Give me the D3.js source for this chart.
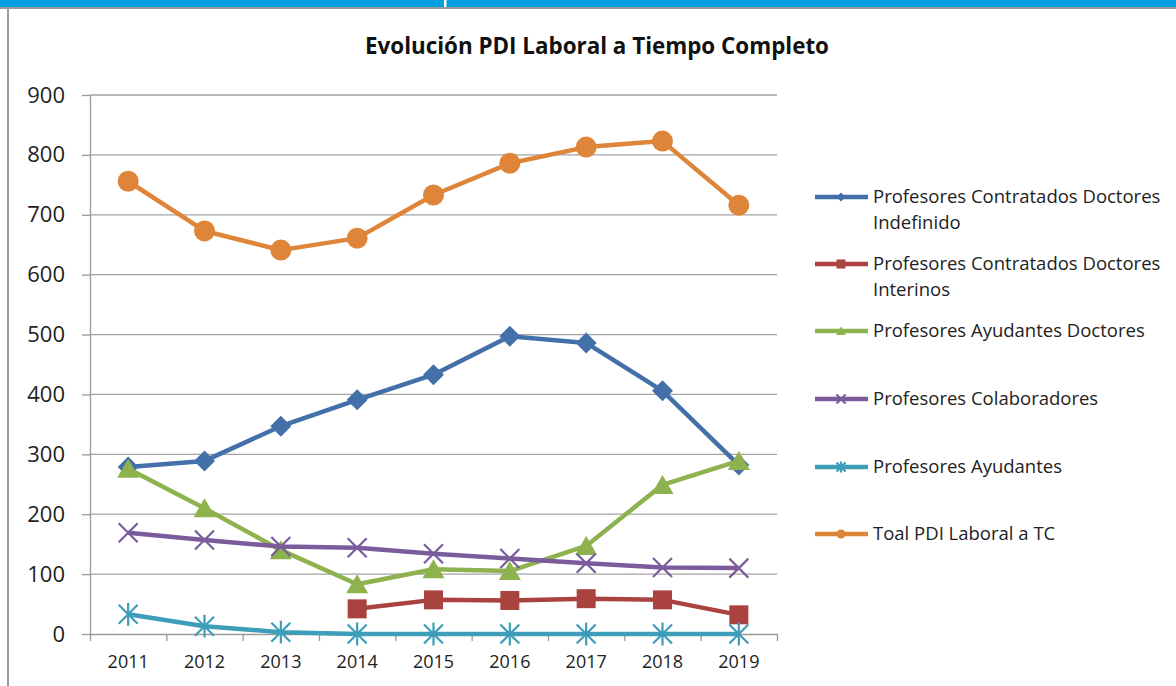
<!DOCTYPE html>
<html>
<head>
<meta charset="utf-8">
<script src="https://cdn.jsdelivr.net/npm/d3@7"></script>
<style>
  body { margin: 0; background: #fff; }
  svg { display: block; }
  svg text { font-family: "Open Sans", "Noto Sans", sans-serif; }
</style>
</head>
<body>
<div id="chart"></div>
<script>
// chart data
var years = ["2011", "2012", "2013", "2014", "2015", "2016", "2017", "2018", "2019"];
var indefinido = [279, 289, 347, 391, 433, 497, 486, 406, 282];
var interinos = [null, null, null, 42, 57, 56, 59, 57, 32];
var ayudantesDoctores = [276, 210, 140, 83, 108, 105, 147, 249, 289];
var colaboradores = [169, 157, 146, 144, 134, 126, 118, 111, 110];
var ayudantes = [33, 13, 3, 0, 0, 0, 0, 0, 0];
var totalTC = [756, 673, 641, 661, 733, 786, 813, 823, 716];
var yTicks = [0, 100, 200, 300, 400, 500, 600, 700, 800, 900];

var series = [
    { name: ["Profesores Contratados Doctores", "Indefinido"], values: indefinido, color: "#4470aa", marker: "diamond" },
    { name: ["Profesores Contratados Doctores", "Interinos"], values: interinos, color: "#aa4240", marker: "square" },
    { name: ["Profesores Ayudantes Doctores"], values: ayudantesDoctores, color: "#8db24e", marker: "triangle" },
    { name: ["Profesores Colaboradores"], values: colaboradores, color: "#7a5c9c", marker: "x" },
    { name: ["Profesores Ayudantes"], values: ayudantes, color: "#3e9db8", marker: "star" },
    { name: ["Toal PDI Laboral a TC"], values: totalTC, color: "#de8539", marker: "circle" }
];

var width = 1176;
var height = 686;
var svg = d3.select("#chart")
    .append("svg")
    .attr("width", width)
    .attr("height", height);

// frame: blue band on top, gray borders
svg.append("rect").attr("x", 0).attr("y", 0).attr("width", width).attr("height", 7).style("fill", "#009edf");
svg.append("rect").attr("x", 444).attr("y", 0).attr("width", 2.5).attr("height", 7).style("fill", "#ffffff");
svg.append("rect").attr("x", 0).attr("y", 7).attr("width", width).attr("height", 2).style("fill", "#9a9a9a");
svg.append("rect").attr("x", 7).attr("y", 9).attr("width", 2).attr("height", height).style("fill", "#9a9a9a");

var plot = { left: 90, right: 777, top: 95, bottom: 634 };

var xScale = d3.scaleBand()
    .domain(years)
    .range([plot.left, plot.right]);
var yScale = d3.scaleLinear()
    .domain([0, 900])
    .range([plot.bottom, plot.top]);

// title
svg.append("text")
    .attr("x", 597)
    .attr("y", 54)
    .attr("text-anchor", "middle")
    .style("font-size", "22.4px")
    .style("font-weight", "bold")
    .style("fill", "#111")
    .text("Evolución PDI Laboral a Tiempo Completo");

// gridlines
svg.append("g")
    .selectAll("line")
    .data(yTicks.slice(1))
    .enter()
    .append("line")
    .attr("x1", plot.left)
    .attr("x2", plot.right)
    .attr("y1", function (d) { return yScale(d); })
    .attr("y2", function (d) { return yScale(d); })
    .style("stroke", "#a3a3a3")
    .style("stroke-width", 1.3);

// y axis
var yAxis = svg.append("g")
    .attr("transform", "translate(" + plot.left + ",0)")
    .call(d3.axisLeft(yScale).tickValues(yTicks).tickSize(8).tickSizeOuter(0).tickPadding(17));
yAxis.selectAll("text").style("font-size", "22px").style("fill", "#222");

// x axis: tick marks on band edges, labels on band centers
var edgeScale = d3.scaleLinear().domain([0, years.length]).range([plot.left, plot.right]);
svg.append("g")
    .attr("transform", "translate(0," + plot.bottom + ")")
    .call(d3.axisBottom(edgeScale).tickValues(d3.range(years.length + 1)).tickFormat("").tickSize(7).tickSizeOuter(0));
var xAxis = svg.append("g")
    .attr("transform", "translate(0," + plot.bottom + ")")
    .call(d3.axisBottom(xScale).tickSize(0).tickPadding(21));
xAxis.select(".domain").remove();
xAxis.selectAll("text").style("font-size", "18px").style("fill", "#222");
svg.selectAll(".domain, .tick line").style("stroke", "#9a9a9a").style("stroke-width", 1.3);

function markerPath(type, s) {
    var h = s / 2;
    if (type == "diamond") return "M0," + (-h) + "L" + h + ",0L0," + h + "L" + (-h) + ",0Z";
    if (type == "square") return "M" + (-h) + "," + (-h) + "H" + h + "V" + h + "H" + (-h) + "Z";
    if (type == "triangle") return "M0," + (-h) + "L" + (h * 1.1) + "," + (h * 0.9) + "H" + (-h * 1.1) + "Z";
    if (type == "x") return "M" + (-h) + "," + (-h) + "L" + h + "," + h + "M" + h + "," + (-h) + "L" + (-h) + "," + h;
    if (type == "star") return "M" + (-h) + "," + (-h) + "L" + h + "," + h + "M" + h + "," + (-h) + "L" + (-h) + "," + h + "M0," + (-h * 1.2) + "V" + (h * 1.2);
    return d3.symbol(d3.symbolCircle, Math.PI * h * h)();
}
var markerSize = { diamond: 21, square: 19, triangle: 20, x: 19, star: 19, circle: 21 };
var lineGen = d3.line()
    .defined(function (d) { return d != null; })
    .x(function (d, i) { return xScale(years[i]) + xScale.bandwidth() / 2; })
    .y(function (d) { return yScale(d); });

function drawMarker(sel, s, size) {
    var stroked = s.marker == "x" || s.marker == "star";
    sel.append("path")
        .attr("d", markerPath(s.marker, size))
        .style("fill", stroked ? "none" : s.color)
        .style("stroke", s.color)
        .style("stroke-width", stroked ? 2.2 : 0);
}

var seriesGroup = svg.append("g").classed("series", true);
series.forEach(function (s) {
    var g = seriesGroup.append("g");
    g.append("path")
        .datum(s.values)
        .attr("d", lineGen)
        .style("fill", "none")
        .style("stroke", s.color)
        .style("stroke-width", 4.5)
        .style("stroke-linejoin", "round");
    s.values.forEach(function (v, i) {
        if (v == null) return;
        var m = g.append("g")
            .attr("transform", "translate(" + (xScale(years[i]) + xScale.bandwidth() / 2) + "," + yScale(v) + ")");
        drawMarker(m, s, markerSize[s.marker]);
    });
});

// legend
var legendRows = [197, 264, 331, 399, 467, 534];
var legend = svg.append("g").classed("legend", true);
series.forEach(function (s, i) {
    var g = legend.append("g").attr("transform", "translate(0," + legendRows[i] + ")");
    g.append("line")
        .attr("x1", 815).attr("x2", 868)
        .style("stroke", s.color)
        .style("stroke-width", 4.5);
    var m = g.append("g").attr("transform", "translate(841,0)");
    drawMarker(m, s, 9);
    var t = g.append("text")
        .attr("x", 873)
        .attr("y", 6)
        .style("font-size", "18.5px")
        .style("fill", "#222");
    s.name.forEach(function (line, j) {
        t.append("tspan").attr("x", 873).attr("dy", j == 0 ? 0 : 26).text(line);
    });
});
</script>
</body>
</html>
